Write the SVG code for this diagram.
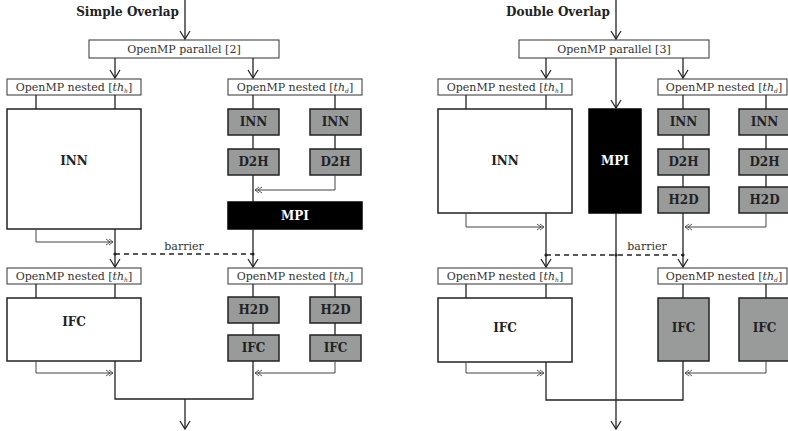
<svg xmlns="http://www.w3.org/2000/svg" width="788" height="431" viewBox="0 0 788 431">
  <style>
    text { font-family: "DejaVu Serif", "Liberation Serif", serif; fill: #333; }
    .title { font-size: 12px; font-weight: bold; fill: #222; }
    .lbl { font-size: 11px; text-anchor: middle; }
    .big { font-size: 12px; font-weight: bold; text-anchor: middle; fill: #222; }
    .inv { fill: #fff; }
    .hdr { fill: #fff; stroke: #444; stroke-width: 1.1; }
    .box { fill: #fff; stroke: #222; stroke-width: 1.5; }
    .gpu { fill: #999b9b; stroke: #222; stroke-width: 1.5; }
    .blk { fill: #000; stroke: #000; stroke-width: 1.5; }
    .ln { fill: none; stroke: #222; stroke-width: 1.3; }
    .fb { fill: none; stroke: #444; stroke-width: 1; }
    .dash { fill: none; stroke: #222; stroke-width: 1.3; stroke-dasharray: 5 4; }
    .arr { marker-end: url(#open); }
    .dbl { marker-end: url(#chev); }
  </style>
  <defs>
    <marker id="open" markerUnits="userSpaceOnUse" markerWidth="12" markerHeight="14" refX="0" refY="0" viewBox="-10 -7 12 14" orient="auto">
      <path d="M-8,-5 L0,0 L-8,5" fill="none" stroke="#222" stroke-width="1.2"/>
    </marker>
    <marker id="chev" markerUnits="userSpaceOnUse" markerWidth="12" markerHeight="10" refX="0" refY="0" viewBox="-10 -5 12 10" orient="auto">
      <path d="M-4,-3 L0,0 L-4,3 M-7,-3 L-3,0 L-7,3" fill="none" stroke="#444" stroke-width="0.9"/>
    </marker>
  </defs>

  <!-- ===== Simple Overlap ===== -->
  <text class="title" x="179" y="16" text-anchor="end">Simple Overlap</text>

  <g id="s-par">
    <rect class="hdr" x="89" y="40" width="190" height="18"/>
    <text class="lbl" x="184" y="53">OpenMP parallel [2]</text>
  </g>
  <g id="s-nest-h1">
    <rect class="hdr" x="7" y="79" width="134" height="16"/>
    <text class="lbl" x="74" y="91">OpenMP nested [<tspan font-style="italic">th</tspan><tspan font-size="6" font-style="italic" dy="2">h</tspan><tspan dy="-2">]</tspan></text>
  </g>
  <g id="s-nest-d1">
    <rect class="hdr" x="228" y="79" width="134" height="16"/>
    <text class="lbl" x="295" y="91">OpenMP nested [<tspan font-style="italic">th</tspan><tspan font-size="6" font-style="italic" dy="2">d</tspan><tspan dy="-2">]</tspan></text>
  </g>
  <g id="s-inn-host">
    <rect class="box" x="7" y="109" width="134" height="120"/>
    <text class="big" x="74" y="165">INN</text>
  </g>
  <g id="s-inn-g1">
    <rect class="gpu" x="228" y="109" width="51" height="26"/>
    <text class="big" x="253.5" y="126">INN</text>
  </g>
  <g id="s-inn-g2">
    <rect class="gpu" x="310" y="109" width="51" height="26"/>
    <text class="big" x="335.5" y="126">INN</text>
  </g>
  <g id="s-d2h-1">
    <rect class="gpu" x="228" y="149" width="51" height="26"/>
    <text class="big" x="253.5" y="166">D2H</text>
  </g>
  <g id="s-d2h-2">
    <rect class="gpu" x="310" y="149" width="51" height="26"/>
    <text class="big" x="335.5" y="166">D2H</text>
  </g>
  <g id="s-mpi">
    <rect class="blk" x="228" y="202" width="134" height="27"/>
    <text class="big inv" x="295" y="220">MPI</text>
  </g>
  <g id="s-barrier">
    <text class="lbl" x="184" y="250">barrier</text>
  </g>
  <g id="s-nest-h2">
    <rect class="hdr" x="7" y="268" width="134" height="16"/>
    <text class="lbl" x="74" y="280">OpenMP nested [<tspan font-style="italic">th</tspan><tspan font-size="6" font-style="italic" dy="2">h</tspan><tspan dy="-2">]</tspan></text>
  </g>
  <g id="s-nest-d2">
    <rect class="hdr" x="228" y="268" width="134" height="16"/>
    <text class="lbl" x="295" y="280">OpenMP nested [<tspan font-style="italic">th</tspan><tspan font-size="6" font-style="italic" dy="2">d</tspan><tspan dy="-2">]</tspan></text>
  </g>
  <g id="s-ifc-host">
    <rect class="box" x="7" y="298" width="134" height="63"/>
    <text class="big" x="74" y="326">IFC</text>
  </g>
  <g id="s-h2d-1">
    <rect class="gpu" x="228" y="297" width="51" height="26"/>
    <text class="big" x="253.5" y="314">H2D</text>
  </g>
  <g id="s-h2d-2">
    <rect class="gpu" x="310" y="297" width="51" height="26"/>
    <text class="big" x="335.5" y="314">H2D</text>
  </g>
  <g id="s-ifc-g1">
    <rect class="gpu" x="228" y="335" width="51" height="26"/>
    <text class="big" x="253.5" y="352">IFC</text>
  </g>
  <g id="s-ifc-g2">
    <rect class="gpu" x="310" y="335" width="51" height="26"/>
    <text class="big" x="335.5" y="352">IFC</text>
  </g>

  <g id="s-connectors">
    <path class="ln arr" d="M185,0 V39"/>
    <path class="ln arr" d="M115,58 V78"/>
    <path class="ln arr" d="M253,58 V78"/>
    <path class="ln" d="M36,95 V109 M115,95 V109 M253,95 V109 M335,95 V109"/>
    <path class="ln" d="M253,135 V149 M335,135 V149"/>
    <path class="ln" d="M253,175 V202"/>
    <path class="fb dbl" d="M335,175 V190 H255"/>
    <path class="fb dbl" d="M36,229 V242 H113"/>
    <path class="ln arr" d="M115,229 V267"/>
    <path class="ln arr" d="M253,229 V267"/>
    <path class="dash" d="M115,254 H253"/>
    <circle cx="115" cy="254" r="1.6" fill="#222"/>
    <circle cx="253" cy="254" r="1.6" fill="#222"/>
    <path class="ln" d="M36,284 V298 M115,284 V298 M253,284 V297 M335,284 V297"/>
    <path class="ln" d="M253,323 V335 M335,323 V335"/>
    <path class="fb dbl" d="M36,361 V373 H113"/>
    <path class="fb dbl" d="M335,361 V373 H255"/>
    <path class="ln" d="M115,361 V399 H253 V361"/>
    <path class="ln arr" d="M185,399 V429"/>
  </g>

  <!-- ===== Double Overlap ===== -->
  <text class="title" x="610" y="16" text-anchor="end">Double Overlap</text>

  <g id="d-par">
    <rect class="hdr" x="519" y="40" width="190" height="18"/>
    <text class="lbl" x="614" y="53">OpenMP parallel [3]</text>
  </g>
  <g id="d-nest-h1">
    <rect class="hdr" x="438" y="79" width="134" height="16"/>
    <text class="lbl" x="505" y="91">OpenMP nested [<tspan font-style="italic">th</tspan><tspan font-size="6" font-style="italic" dy="2">h</tspan><tspan dy="-2">]</tspan></text>
  </g>
  <g id="d-nest-d1">
    <rect class="hdr" x="658" y="79" width="129" height="16"/>
    <text class="lbl" x="724" y="91">OpenMP nested [<tspan font-style="italic">th</tspan><tspan font-size="6" font-style="italic" dy="2">d</tspan><tspan dy="-2">]</tspan></text>
  </g>
  <g id="d-inn-host">
    <rect class="box" x="438" y="109" width="134" height="104"/>
    <text class="big" x="505" y="165">INN</text>
  </g>
  <g id="d-mpi">
    <rect class="blk" x="589" y="109" width="52" height="104"/>
    <text class="big inv" x="615" y="165">MPI</text>
  </g>
  <g id="d-inn-g1">
    <rect class="gpu" x="658" y="109" width="51" height="26"/>
    <text class="big" x="683.5" y="126">INN</text>
  </g>
  <g id="d-inn-g2">
    <rect class="gpu" x="739" y="109" width="51" height="26"/>
    <text class="big" x="764.5" y="126">INN</text>
  </g>
  <g id="d-d2h-1">
    <rect class="gpu" x="658" y="149" width="51" height="26"/>
    <text class="big" x="683.5" y="166">D2H</text>
  </g>
  <g id="d-d2h-2">
    <rect class="gpu" x="739" y="149" width="51" height="26"/>
    <text class="big" x="764.5" y="166">D2H</text>
  </g>
  <g id="d-h2d-1">
    <rect class="gpu" x="658" y="187" width="51" height="26"/>
    <text class="big" x="683.5" y="204">H2D</text>
  </g>
  <g id="d-h2d-2">
    <rect class="gpu" x="739" y="187" width="51" height="26"/>
    <text class="big" x="764.5" y="204">H2D</text>
  </g>
  <g id="d-barrier">
    <text class="lbl" x="647" y="250">barrier</text>
  </g>
  <g id="d-nest-h2">
    <rect class="hdr" x="438" y="268" width="134" height="16"/>
    <text class="lbl" x="505" y="280">OpenMP nested [<tspan font-style="italic">th</tspan><tspan font-size="6" font-style="italic" dy="2">h</tspan><tspan dy="-2">]</tspan></text>
  </g>
  <g id="d-nest-d2">
    <rect class="hdr" x="658" y="268" width="129" height="16"/>
    <text class="lbl" x="724" y="280">OpenMP nested [<tspan font-style="italic">th</tspan><tspan font-size="6" font-style="italic" dy="2">d</tspan><tspan dy="-2">]</tspan></text>
  </g>
  <g id="d-ifc-host">
    <rect class="box" x="438" y="298" width="134" height="64"/>
    <text class="big" x="505" y="332">IFC</text>
  </g>
  <g id="d-ifc-g1">
    <rect class="gpu" x="658" y="298" width="51" height="63"/>
    <text class="big" x="683.5" y="332">IFC</text>
  </g>
  <g id="d-ifc-g2">
    <rect class="gpu" x="739" y="298" width="51" height="63"/>
    <text class="big" x="764.5" y="332">IFC</text>
  </g>

  <g id="d-connectors">
    <path class="ln arr" d="M616,0 V39"/>
    <path class="ln arr" d="M546,58 V78"/>
    <path class="ln arr" d="M616,58 V108"/>
    <path class="ln arr" d="M683,58 V78"/>
    <path class="ln" d="M466,95 V109 M546,95 V109 M683,95 V109 M766,95 V109"/>
    <path class="ln" d="M683,135 V149 M766,135 V149 M683,175 V187 M766,175 V187"/>
    <path class="fb dbl" d="M466,213 V227 H544"/>
    <path class="fb dbl" d="M766,213 V227 H685"/>
    <path class="ln arr" d="M546,213 V267"/>
    <path class="ln arr" d="M683,213 V267"/>
    <path class="dash" d="M546,255 H683"/>
    <circle cx="546" cy="255" r="1.6" fill="#222"/>
    <circle cx="616" cy="255" r="1.6" fill="#222"/>
    <circle cx="683" cy="255" r="1.6" fill="#222"/>
    <path class="ln" d="M466,284 V298 M546,284 V298 M683,284 V298 M766,284 V298"/>
    <path class="fb dbl" d="M466,362 V373 H544"/>
    <path class="fb dbl" d="M766,361 V373 H685"/>
    <path class="ln" d="M546,362 V400 H683 V361"/>
    <path class="ln arr" d="M616,213 V429"/>
  </g>
</svg>
